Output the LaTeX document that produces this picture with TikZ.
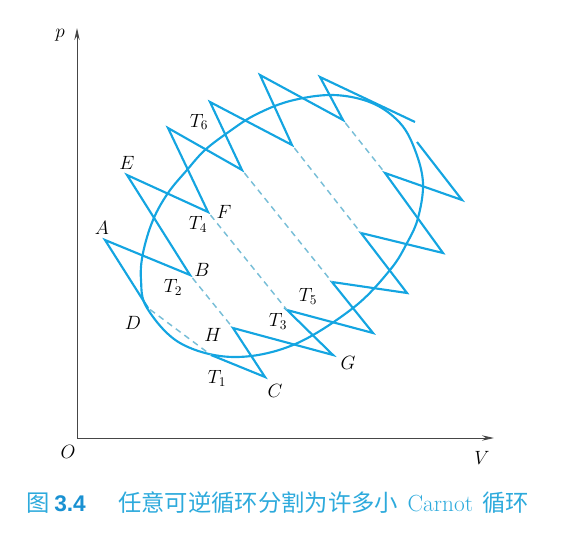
\documentclass[tikz,border=0pt]{standalone}
\usepackage{fontspec}
\newfontfamily\cjk{Noto Sans CJK SC}
\newfontfamily\capsf{Liberation Sans}
\usetikzlibrary{arrows.meta}
\definecolor{CycB}  {RGB}{20, 165, 225}
\definecolor{DashB} {RGB}{120,190, 215}
\definecolor{AxisK} {RGB}{70,  70,  70}
\definecolor{CapB}  {RGB}{45, 170, 220}
\definecolor{CapD}  {RGB}{25, 145, 210}

\begin{document}
\begin{tikzpicture}[x=0.75pt,y=-0.75pt,
    cyc/.style={CycB,line width=1.6pt,line join=miter},
    adia/.style={DashB,line width=1.1pt,dash pattern=on 4.5pt off 3.5pt},
    axis/.style={AxisK,line width=0.7pt,-{Stealth[length=9pt,width=4pt]}},
    lbl/.style={font=\Large,inner sep=0pt},
    captxt/.style={anchor=base west,inner sep=0pt,CapB,font=\fontsize{17.5}{20}\selectfont\cjk}]
  \useasboundingbox (0,0) rectangle (570,545);
  % axes
  \coordinate (O) at (77,438);
  \coordinate (pEnd) at (77,28);
  \coordinate (VEnd) at (494,438);
  \draw[axis] (O) -- (pEnd);
  \draw[axis] (O) -- (VEnd);
  \node[lbl] (pLab) at (60,35) {$p$};
  \node[lbl] (OLab) at (68,452) {$O$};
  \node[lbl] (VLab) at (482,458) {$V$};

  % the reversible cycle
  \draw[cyc] plot[smooth cycle,tension=0.6] coordinates {
      (143,253) (153,220) (168,193) (187,170) (205,150) (230,131)
      (255,115) (290,101) (333,95) (372,103) (400,123) (415,150)
      (423,183) (418,218) (407,243) (390,270) (353,308) (293,345)
      (233,357) (180,343) (147,308) (141,280)};

  % upper isotherms
  \coordinate (D) at (148,308);
  \coordinate (A) at (105,240);
  \coordinate (B) at (190,275);
  \coordinate (E) at (127,175);
  \coordinate (F) at (208,212);
  \coordinate (L3) at (168,128);
  \coordinate (R3) at (242,170);
  \coordinate (L4) at (210,102);
  \coordinate (R4) at (292,145);
  \coordinate (L5) at (260,75);
  \coordinate (R5) at (343,120);
  \coordinate (L6) at (320,77);
  \coordinate (Uend) at (415,122);
  % lower isotherms
  \coordinate (S) at (211,355);
  \coordinate (C) at (265,377);
  \coordinate (H) at (233,328);
  \coordinate (G) at (333,355);
  \coordinate (M2) at (287,310);
  \coordinate (N2) at (373,333);
  \coordinate (M3) at (332,282);
  \coordinate (N3) at (407,293);
  \coordinate (M4) at (361,233);
  \coordinate (N4) at (443,253);
  \coordinate (M5) at (385,173);
  \coordinate (N5) at (462,200);
  \coordinate (Wend) at (417,142);

  \draw[cyc] (D) -- (A) -- (B) -- (E) -- (F) -- (L3) -- (R3) -- (L4)
      -- (R4) -- (L5) -- (R5) -- (L6) -- (Uend);
  \draw[cyc] (S) -- (C) -- (H) -- (G) -- (M2) -- (N2) -- (M3) -- (N3)
      -- (M4) -- (N4) -- (M5) -- (N5) -- (Wend);

  % adiabats
  \draw[adia,shorten <=2pt] (D) -- (S);
  \foreach \a/\b in {B/H,F/M2,R3/M3,R4/M4,R5/M5}
    \draw[adia,shorten <=3pt] (\a) -- (\b);

  % labels
  \node[lbl] (lA) at (102,228) {$A$};
  \node[lbl] (lE) at (127,163) {$E$};
  \node[lbl] (lT6) at (199,122) {$T_6$};
  \node[lbl] (lF) at (224,212) {$F$};
  \node[lbl] (lT4) at (198,224) {$T_4$};
  \node[lbl] (lB) at (202,270) {$B$};
  \node[lbl] (lT2) at (173,287) {$T_2$};
  \node[lbl] (lD) at (133,323) {$D$};
  \node[lbl] (lH) at (213,335) {$H$};
  \node[lbl] (lT1) at (217,378) {$T_1$};
  \node[lbl] (lC) at (275,391) {$C$};
  \node[lbl] (lT3) at (278,321) {$T_3$};
  \node[lbl] (lT5) at (308,296) {$T_5$};
  \node[lbl] (lG) at (348,363) {$G$};

  % caption
  \node[captxt] (capNum) at (26,511)
    {图\hspace{3.5pt}{\capsf\bfseries\fontsize{17}{20}\selectfont\color{CapD}3.4}};
  \node[captxt] (capText) at (118,511)
    {任意可逆循环分割为许多小\hspace{7pt}{\rmfamily\fontsize{17.5}{20}\selectfont Carnot}\hspace{7pt}循环};
\end{tikzpicture}
\end{document}
